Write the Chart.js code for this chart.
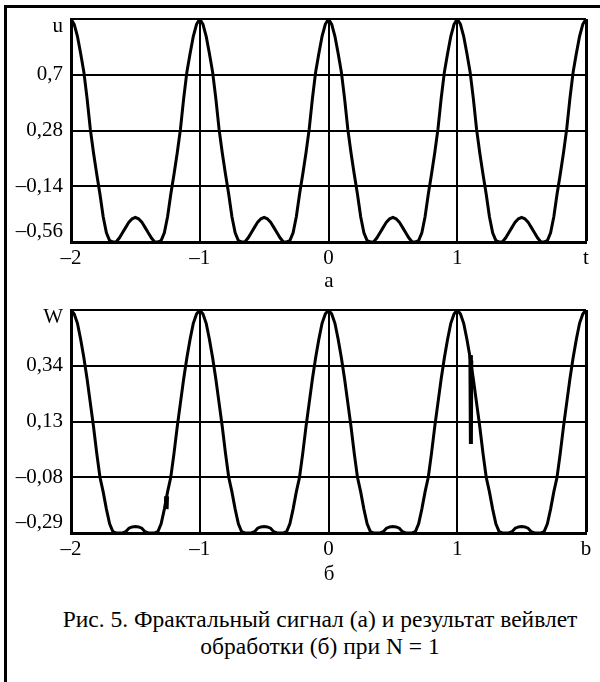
<!DOCTYPE html>
<html>
<head>
<meta charset="utf-8">
<script src="https://cdn.jsdelivr.net/npm/chart.js@4.4.0/dist/chart.umd.min.js"></script>
<style>
  body { margin: 0; background: #fff; }
  #page { position: relative; width: 600px; height: 682px; overflow: hidden;
          font-family: "Liberation Serif", "Times New Roman", serif; color: #000; }
  #frame { position: absolute; left: 4px; top: 5px; width: 700px; height: 800px;
           border-top: 3px solid #000; border-left: 3px solid #000; }
  canvas { position: absolute; left: 0; }
  .sub { position: absolute; left: 309px; width: 40px; text-align: center;
         font-size: 21px; line-height: 24px; }
  #caption { position: absolute; left: 20px; width: 600px; top: 606px;
             text-align: center; font-size: 23.5px; line-height: 27px; }
</style>
</head>
<body>
<div id="page">
  <div id="frame"></div>
  <canvas id="chartU" width="600" height="300" style="top:0"></canvas>
  <div class="sub" style="top:268px">а</div>
  <canvas id="chartW" width="600" height="290" style="top:296px"></canvas>
  <div class="sub" style="top:561px">б</div>
  <div id="caption">Рис. 5. Фрактальный сигнал (а) и результат вейвлет<br>обработки (б) при N = 1</div>
</div>
<script>
// sample positions on t axis, -2 .. 2
const tStart = -2, tStep = 0.025, tCount = 161;
const tValues = Array.from({ length: tCount }, (_, i) => +(tStart + i * tStep).toFixed(3));

// fractal signal u(t)
const uValues = [
  1.12, 1.08, 0.99, 0.86, 0.72, 0.52, 0.29, 0.11, -0.05, -0.20, -0.37, -0.49, -0.55, -0.56, -0.56, -0.53, -0.49, -0.45, -0.41, -0.385,
  -0.375, -0.385, -0.41, -0.45, -0.49, -0.53, -0.56, -0.56, -0.55, -0.49, -0.37, -0.20, -0.05, 0.11, 0.29, 0.52, 0.72, 0.86, 0.99, 1.08,
  1.12, 1.08, 0.99, 0.86, 0.72, 0.52, 0.29, 0.11, -0.05, -0.20, -0.37, -0.49, -0.55, -0.56, -0.56, -0.53, -0.49, -0.45, -0.41, -0.385,
  -0.375, -0.385, -0.41, -0.45, -0.49, -0.53, -0.56, -0.56, -0.55, -0.49, -0.37, -0.20, -0.05, 0.11, 0.29, 0.52, 0.72, 0.86, 0.99, 1.08,
  1.12, 1.08, 0.99, 0.86, 0.72, 0.52, 0.29, 0.11, -0.05, -0.20, -0.37, -0.49, -0.55, -0.56, -0.56, -0.53, -0.49, -0.45, -0.41, -0.385,
  -0.375, -0.385, -0.41, -0.45, -0.49, -0.53, -0.56, -0.56, -0.55, -0.49, -0.37, -0.20, -0.05, 0.11, 0.29, 0.52, 0.72, 0.86, 0.99, 1.08,
  1.12, 1.08, 0.99, 0.86, 0.72, 0.52, 0.29, 0.11, -0.05, -0.20, -0.37, -0.49, -0.55, -0.56, -0.56, -0.53, -0.49, -0.45, -0.41, -0.385,
  -0.375, -0.385, -0.41, -0.45, -0.49, -0.53, -0.56, -0.56, -0.55, -0.49, -0.37, -0.20, -0.05, 0.11, 0.29, 0.52, 0.72, 0.86, 0.99, 1.08,
  1.12
];

// wavelet result W(t), bottom plot
const wValues = [
  0.55, 0.535, 0.50, 0.44, 0.37, 0.29, 0.20, 0.11, 0.01, -0.08, -0.135, -0.20, -0.255, -0.285, -0.29, -0.29, -0.29, -0.285, -0.272, -0.267,
  -0.266, -0.267, -0.272, -0.285, -0.29, -0.29, -0.29, -0.285, -0.255, -0.20, -0.135, -0.08, 0.01, 0.11, 0.20, 0.29, 0.37, 0.44, 0.50, 0.535,
  0.55, 0.535, 0.50, 0.44, 0.37, 0.29, 0.20, 0.11, 0.01, -0.08, -0.135, -0.20, -0.255, -0.285, -0.29, -0.29, -0.29, -0.285, -0.272, -0.267,
  -0.266, -0.267, -0.272, -0.285, -0.29, -0.29, -0.29, -0.285, -0.255, -0.20, -0.135, -0.08, 0.01, 0.11, 0.20, 0.29, 0.37, 0.44, 0.50, 0.535,
  0.55, 0.535, 0.50, 0.44, 0.37, 0.29, 0.20, 0.11, 0.01, -0.08, -0.135, -0.20, -0.255, -0.285, -0.29, -0.29, -0.29, -0.285, -0.272, -0.267,
  -0.266, -0.267, -0.272, -0.285, -0.29, -0.29, -0.29, -0.285, -0.255, -0.20, -0.135, -0.08, 0.01, 0.11, 0.20, 0.29, 0.37, 0.44, 0.50, 0.535,
  0.55, 0.535, 0.50, 0.44, 0.37, 0.29, 0.20, 0.11, 0.01, -0.08, -0.135, -0.20, -0.255, -0.285, -0.29, -0.29, -0.29, -0.285, -0.272, -0.267,
  -0.266, -0.267, -0.272, -0.285, -0.29, -0.29, -0.29, -0.285, -0.255, -0.20, -0.135, -0.08, 0.01, 0.11, 0.20, 0.29, 0.37, 0.44, 0.50, 0.535,
  0.55
];

// the two glitches in W
const spike1T = [-1.256, -1.262, -1.257];
const spike1W = [-0.152, -0.20, -0.155];
const spike2T = [1.102, 1.106, 1.109];
const spike2W = [0.38, 0.045, 0.36];

// axis ticks and their labels
const xTicks = [-2, -1, 0, 1, 2];
const xLabelsU = ["–2", "–1", "0", "1", "t"];
const xLabelsW = ["–2", "–1", "0", "1", "b"];
const yTicksU = [-0.56, -0.14, 0.28, 0.7, 1.12];
const yLabelsU = ["–0,56", "–0,14", "0,28", "0,7", "u"];
const yTicksW = [-0.29, -0.08, 0.13, 0.34, 0.55];
const yLabelsW = ["–0,29", "–0,08", "0,13", "0,34", "W"];

const toPoints = (xs, ys) => xs.map((x, i) => ({ x: x, y: ys[i] }));

// Mathcad-like tick labels, first and last pulled inside the box
const tickLabels = {
  id: 'tickLabels',
  afterDraw(chart, args, opts) {
    const { ctx, chartArea: a, scales: { x, y } } = chart;
    ctx.save();
    ctx.fillStyle = '#000';
    ctx.font = '21px "Liberation Serif"';
    ctx.textBaseline = 'middle';
    ctx.textAlign = 'right';
    opts.yLabels.forEach((lab, i) => {
      let py = y.getPixelForValue(opts.yTicks[i]);
      py = Math.min(Math.max(py, a.top + 7), a.bottom - 11);
      ctx.fillText(lab, a.left - 8, py);
    });
    ctx.textAlign = 'center';
    opts.xLabels.forEach((lab, i) => {
      ctx.fillText(lab, x.getPixelForValue(xTicks[i]), a.bottom + 16);
    });
    ctx.restore();
  }
};

function makeChart(id, datasets, yTicks, yLabels, xLabels, padding) {
  return new Chart(document.getElementById(id), {
    type: 'line',
    data: { datasets: datasets },
    plugins: [tickLabels],
    options: {
      responsive: false,
      animation: false,
      events: [],
      layout: { padding: padding },
      plugins: {
        legend: { display: false },
        tooltip: { enabled: false },
        tickLabels: { yTicks: yTicks, yLabels: yLabels, xLabels: xLabels }
      },
      elements: { point: { radius: 0 }, line: { tension: 0 } },
      scales: {
        x: {
          type: 'linear', min: -2, max: 2,
          afterBuildTicks: s => { s.ticks = xTicks.map(v => ({ value: v })); },
          afterFit: s => { s.height = 0; },
          ticks: { display: false },
          grid: { color: '#000', drawTicks: false,
                  lineWidth: c => (c.tick && c.tick.value === 2 ? 3 : 2) },
          border: { display: true, color: '#000', width: 3 }
        },
        y: {
          type: 'linear', min: yTicks[0], max: yTicks[yTicks.length - 1],
          afterBuildTicks: s => { s.ticks = yTicks.map(v => ({ value: v })); },
          afterFit: s => { s.width = 0; },
          ticks: { display: false },
          grid: { color: '#000', drawTicks: false, lineWidth: 2 },
          border: { display: true, color: '#000', width: 3 }
        }
      }
    }
  });
}

const lineStyle = { borderColor: '#000', borderWidth: 3, fill: false, pointRadius: 0 };

makeChart('chartU',
  [Object.assign({ data: toPoints(tValues, uValues) }, lineStyle)],
  yTicksU, yLabelsU, xLabelsU,
  { left: 71, right: 14, top: 19, bottom: 58 });

makeChart('chartW',
  [
    Object.assign({ data: toPoints(tValues, wValues) }, lineStyle),
    Object.assign({ data: toPoints(spike1T, spike1W) }, lineStyle, { borderWidth: 4.5 }),
    Object.assign({ data: toPoints(spike2T, spike2W) }, lineStyle, { borderWidth: 4 })
  ],
  yTicksW, yLabelsW, xLabelsW,
  { left: 71, right: 14, top: 14, bottom: 53 });
</script>
</body>
</html>
